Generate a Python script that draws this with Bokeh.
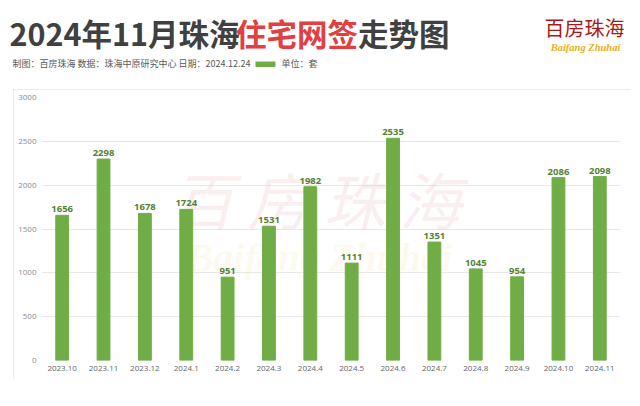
from bokeh.plotting import figure
from bokeh.layouts import column
from bokeh.core.properties import value
from bokeh.models import Label, BoxAnnotation, Range1d, FactorRange, ColumnDataSource, LabelSet, FixedTicker
from bokeh.embed import file_html
from bokeh.resources import INLINE

months = ["2023.10", "2023.11", "2023.12", "2024.1", "2024.2", "2024.3", "2024.4",
          "2024.5", "2024.6", "2024.7", "2024.8", "2024.9", "2024.10", "2024.11"]
sales = [1656, 2298, 1678, 1724, 951, 1531, 1982, 1111, 2535, 1351, 1045, 954, 2086, 2098]
y_ticks = [0, 500, 1000, 1500, 2000, 2500, 3000]

title_parts = ["2024年11月珠海", "住宅网签", "走势图"]
title_x = [9, 235.5, 357.5]
title_colors = ["#404040", "#e04040", "#404040"]
subtitle = "制图：百房珠海 数据：珠海中原研究中心 日期：2024.12.24"
unit_text = "单位：套"

HW, HH = 632, 89
CW, CH = 618, 290
ML, MR, MT, MB = 28, 11, 8, 19

# ---------- header ----------
h = figure(width=HW, height=HH, x_range=Range1d(0, HW), y_range=Range1d(HH, 0),
           output_backend="svg", toolbar_location=None, min_border=0,
           x_axis_location=None, y_axis_location=None)
h.frame_align = False
h.grid.visible = False
h.outline_line_color = None
h.background_fill_color = "white"
h.border_fill_color = "white"

def hl(text, x, y, **kw):
    d = dict(text_font="Noto Sans CJK SC", text_baseline="middle", text_align="left")
    d.update(kw)
    h.add_layout(Label(x=x, y=y, text=text, **d))

for t, x, c in zip(title_parts, title_x, title_colors):
    hl(t, x, 32.5, text_font_size="30.5px", text_font_style="bold", text_color=c)
hl(subtitle, 12, 63, text_font_size="9px", text_color="#595959")
h.add_layout(BoxAnnotation(left=255, right=275, top=61, bottom=66.5,
                           fill_color="#70AD47", fill_alpha=1, line_color=None))
hl(unit_text, 281, 63, text_font_size="9px", text_color="#595959")
hl("百房珠海", 584, 27, text_align="center", text_font_size="20px", text_color="#a81a1a")
hl("Baifang Zhuhai", 585, 47, text_align="center", text_font="Liberation Serif",
   text_font_size="10.5px", text_font_style="bold italic", text_color="#e8b020")

# ---------- chart ----------
p = figure(width=CW, height=CH, x_range=FactorRange(*months, range_padding=0),
           y_range=Range1d(0, 3000), output_backend="svg", toolbar_location=None,
           min_border_left=ML, min_border_right=MR, min_border_top=MT, min_border_bottom=MB,
           margin=(0, 0, 0, 13),
           styles={"outline": "1px solid #e6e6e6", "outline-offset": "-1px"})
p.frame_align = False
p.outline_line_color = None
p.background_fill_color = "white"
p.border_fill_color = "white"

# watermark (frame-relative)
p.add_layout(Label(x=275, y=163, x_units="screen", y_units="screen", text="百 房 珠 海",
                   text_font="Noto Sans CJK SC", text_align="center", text_baseline="middle",
                   text_font_size="62px", text_color="#e8a0a0", text_alpha=0.18,
                   text_font_style="italic", level="underlay"))
p.add_layout(Label(x=283, y=103, x_units="screen", y_units="screen", text="Baifang  Zhuhai",
                   text_font="Liberation Serif", text_align="center", text_baseline="middle",
                   text_font_size="40px", text_color="#f0d080", text_alpha=0.13,
                   text_font_style="bold italic", level="underlay"))

src = ColumnDataSource(dict(m=months, v=sales, t=[str(s) for s in sales]))
p.vbar(x="m", top="v", width=0.31, source=src, color="#70AD47")

p.add_layout(LabelSet(x="m", y="v", text="t", source=src, text_align="center",
                      text_baseline="bottom", y_offset=3, text_font=value("Open Sans"),
                      text_font_style="bold", text_font_size="9.5px", text_color="#548235"))

p.xgrid.grid_line_color = None
p.ygrid.grid_line_color = "#e8e8e8"
p.yaxis.ticker = FixedTicker(ticks=y_ticks)
for ax in (p.xaxis[0], p.yaxis[0]):
    ax.axis_line_color = None
    ax.major_tick_line_color = None
    ax.minor_tick_line_color = None
    ax.major_tick_out = 0
    ax.minor_tick_out = 0
    ax.major_tick_in = 0
    ax.major_label_text_font = "Open Sans"
    ax.major_label_text_font_size = "8px"
p.yaxis.major_label_text_color = "#8c8c8c"
p.yaxis.major_label_standoff = 5
p.xaxis.major_label_text_color = "#666666"
p.xaxis.major_label_standoff = 5

layout = column(h, p, spacing=0)
open("out.html", "w").write(file_html(layout, INLINE))
